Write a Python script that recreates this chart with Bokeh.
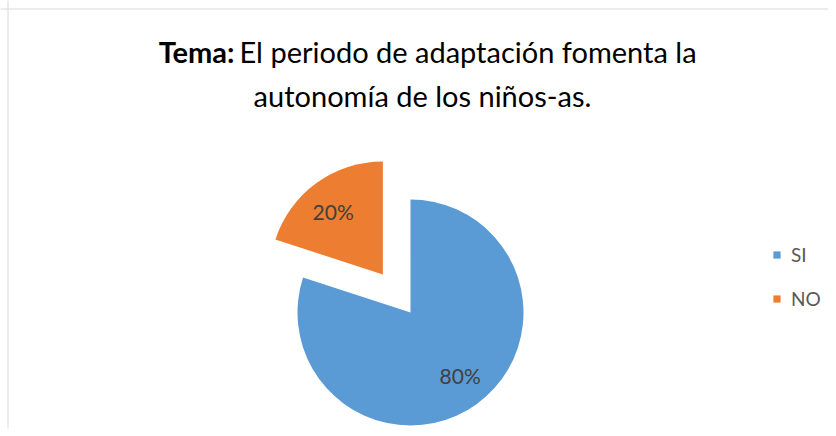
import math
from bokeh.plotting import figure
from bokeh.models import ColumnDataSource, Label, Legend, LegendItem, Span
from bokeh.core.properties import value
from bokeh.embed import file_html
from bokeh.resources import INLINE

categories = ["SI", "NO"]
percents = [80, 20]
colors = ["#5B9BD5", "#ED7D31"]
exploded = [0.0, 47.0]

title_bold = "Tema:"
title_line1 = "El periodo de adaptación fomenta la"
title_line2 = "autonomía de los niños-as."

W, H = 828, 428
FONT = "Lato"

p = figure(width=W, height=H, x_range=(0, W), y_range=(0, H), min_border=0,
           output_backend="svg", toolbar_location=None)
p.axis.visible = False
p.grid.visible = False
p.outline_line_color = None
p.background_fill_color = "white"
p.border_fill_color = "white"

p.add_layout(Span(location=7.5, dimension="height", line_color="#D9D9D9", line_width=1))
p.add_layout(Span(location=H - 8.5, dimension="width", line_color="#D9D9D9", line_width=1))

cx, cy, r = 410.0, 116.0, 113.0
total = float(sum(percents))
start_cw = math.pi / 2
xs, ys, starts, ends, lx, ly, labels = [], [], [], [], [], [], []
for v, off in zip(percents, exploded):
    sweep = 2 * math.pi * v / total
    end_cw = start_cw - sweep
    mid = (start_cw + end_cw) / 2
    ox = cx + off * math.cos(mid)
    oy = cy + off * math.sin(mid)
    xs.append(ox)
    ys.append(oy)
    starts.append(end_cw)
    ends.append(start_cw)
    lx.append(ox + 0.71 * r * math.cos(mid + 0.04))
    ly.append(oy + 0.71 * r * math.sin(mid + 0.04))
    labels.append(f"{v}%")
    start_cw = end_cw

src = ColumnDataSource(dict(x=xs, y=ys, start=starts, end=ends, color=colors,
                            cat=categories, lx=lx, ly=ly, label=labels))

items = []
for i, c in enumerate(categories):
    rnd = p.wedge(x=[xs[i]], y=[ys[i]], radius=r, start_angle=[starts[i]], end_angle=[ends[i]],
                  fill_color=colors[i], line_color=None)
    items.append(LegendItem(label=c, renderers=[rnd]))

p.text(x="lx", y="ly", text="label", source=src, text_align="center", text_baseline="middle",
       text_font=value(FONT), text_font_size="21px", text_color="#404040")

legend = Legend(items=items, location=(772, 118), orientation="vertical",
                glyph_width=9, glyph_height=9, label_text_font=FONT,
                label_text_font_size="19px", label_text_color="#595959",
                label_height=20, spacing=21, label_standoff=10, padding=10,
                border_line_color=None, background_fill_alpha=0)
p.add_layout(legend)

p.add_layout(Label(x=234, y=377, text=title_bold, text_align="right", text_baseline="middle",
                   text_font=FONT, text_font_style="bold", text_font_size="29px", text_color="black"))
p.add_layout(Label(x=239, y=377, text=title_line1, text_align="left", text_baseline="middle",
                   text_font=FONT, text_font_size="29px", text_color="black"))
p.add_layout(Label(x=422, y=333, text=title_line2, text_align="center", text_baseline="middle",
                   text_font=FONT, text_font_size="29px", text_color="black"))

open("out.html", "w").write(file_html(p, INLINE))
